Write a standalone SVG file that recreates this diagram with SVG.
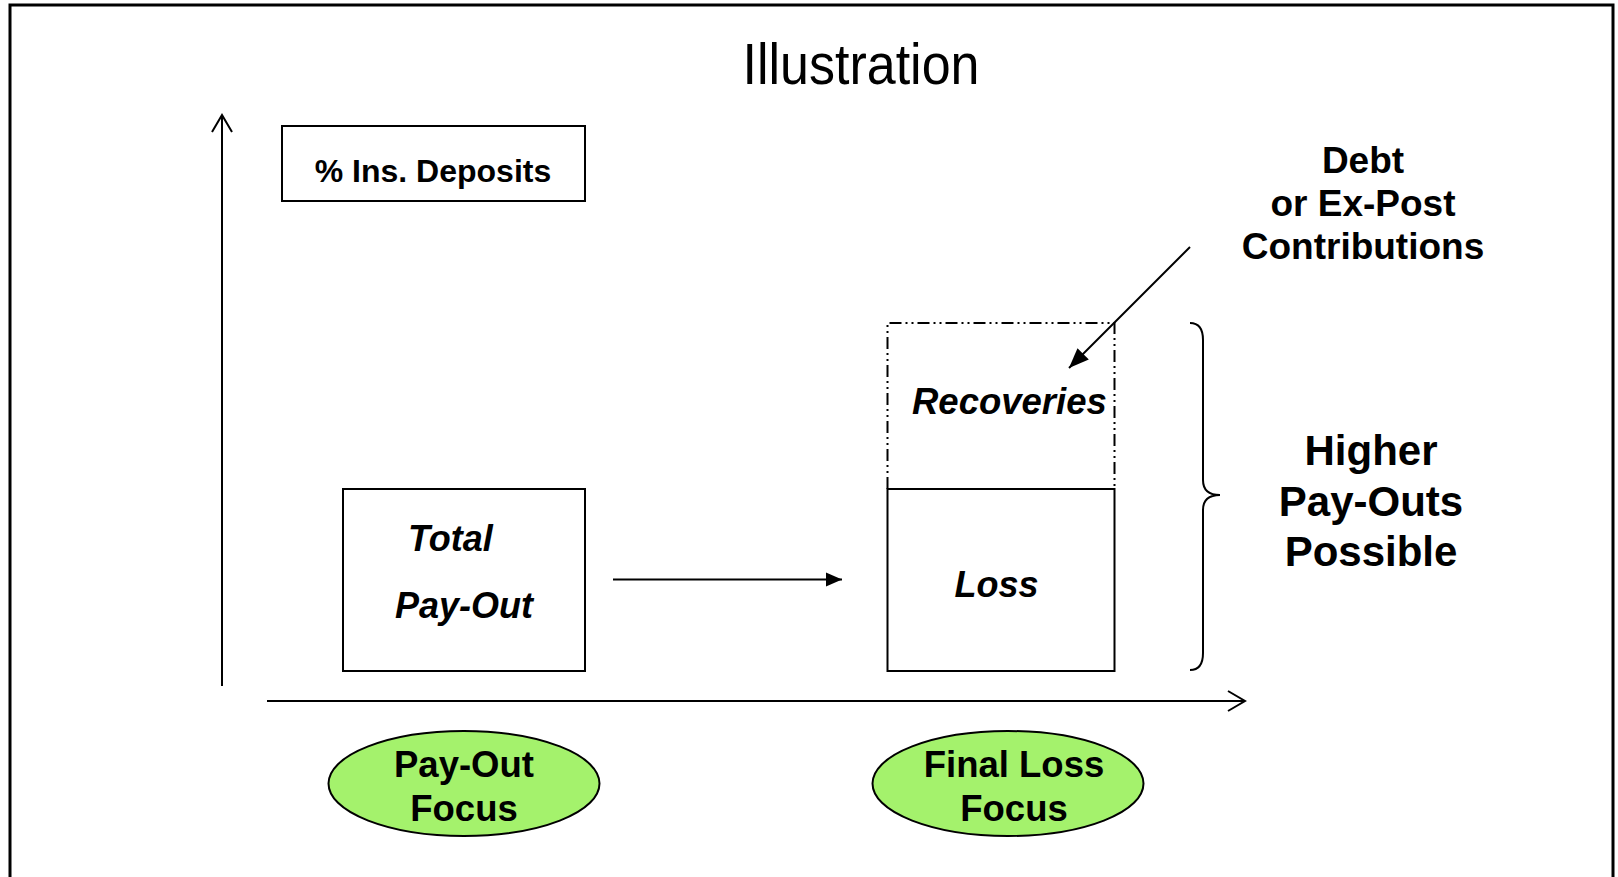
<svg xmlns="http://www.w3.org/2000/svg" width="1618" height="877" viewBox="0 0 1618 877">
<defs>
<marker id="openArrow" markerUnits="userSpaceOnUse" markerWidth="24" markerHeight="24" viewBox="-20 -12 24 24" refX="0" refY="0" orient="auto">
<path d="M-17,-10 L0,0 L-17,10" fill="none" stroke="#000" stroke-width="2"/>
</marker>
<marker id="solidArrow" markerUnits="userSpaceOnUse" markerWidth="24" markerHeight="20" viewBox="-22 -10 24 20" refX="0" refY="0" orient="auto">
<path d="M-16,-7 L0,0 L-16,7 Z" fill="#000"/>
</marker>
<marker id="solidArrow2" markerUnits="userSpaceOnUse" markerWidth="26" markerHeight="20" viewBox="-24 -10 26 20" refX="0" refY="0" orient="auto">
<path d="M-20,-8 L0,0 L-20,8 Z" fill="#000"/>
</marker>
</defs>
<style>
.b{font-family:"Liberation Sans",Arial,sans-serif;font-weight:bold;fill:#000}
.bi{font-family:"Liberation Sans",Arial,sans-serif;font-weight:bold;font-style:italic;fill:#000}
.box{fill:#fff;stroke:#000;stroke-width:2}
.ln{stroke:#000;stroke-width:2;fill:none}
.ell{fill:#a4f26c;stroke:#000;stroke-width:2}
</style>
<rect x="0" y="0" width="1618" height="877" fill="#fff"/>
<rect x="10" y="5" width="1603" height="900" fill="none" stroke="#000" stroke-width="3"/>

<text x="861" y="84" text-anchor="middle" font-family="Liberation Sans, Arial, sans-serif" font-size="57" textLength="237" lengthAdjust="spacingAndGlyphs">Illustration</text>

<g id="connectors">
<line class="ln" x1="222" y1="686" x2="222" y2="115" marker-end="url(#openArrow)"/>
<line class="ln" x1="267" y1="701" x2="1245" y2="701" marker-end="url(#openArrow)"/>
<line class="ln" x1="613" y1="579.5" x2="842" y2="579.5" marker-end="url(#solidArrow)"/>
<line class="ln" x1="1190" y1="247" x2="1069" y2="368" marker-end="url(#solidArrow2)"/>
<path class="ln" d="M1190,323 Q1203,323 1203,340 L1203,480 Q1203,495 1220,495 Q1203,495 1203,510 L1203,653 Q1203,670 1190,670"/>
</g>

<g id="ins-deposits">
<rect class="box" x="282" y="126" width="303" height="75"/>
<text class="b" x="433" y="182" text-anchor="middle" font-size="32">% Ins. Deposits</text>
</g>

<g id="total-payout">
<rect class="box" x="343" y="489" width="242" height="182"/>
<text class="bi" x="408" y="551" font-size="36">Total</text>
<text class="bi" x="395" y="618" font-size="36">Pay-Out</text>
</g>

<g id="recoveries">
<path d="M887.5,489 L887.5,323 L1114.5,323 L1114.5,489" fill="none" stroke="#000" stroke-width="2" stroke-dasharray="12,4,2,4,2,4"/>
<text class="bi" x="912" y="414" font-size="36.5">Recoveries</text>
</g>

<g id="loss">
<rect class="box" x="887.5" y="489" width="227" height="182"/>
<text class="bi" x="954.5" y="596.5" font-size="36">Loss</text>
</g>

<g id="debt-label">
<text class="b" x="1363" y="173" text-anchor="middle" font-size="37">Debt</text>
<text class="b" x="1363" y="216" text-anchor="middle" font-size="37">or Ex-Post</text>
<text class="b" x="1363" y="259" text-anchor="middle" font-size="37">Contributions</text>
</g>

<g id="higher-payouts">
<text class="b" x="1371" y="465" text-anchor="middle" font-size="42">Higher</text>
<text class="b" x="1371" y="515.5" text-anchor="middle" font-size="42">Pay-Outs</text>
<text class="b" x="1371" y="566" text-anchor="middle" font-size="42">Possible</text>
</g>

<g id="payout-focus">
<ellipse class="ell" cx="464" cy="783.5" rx="135.5" ry="52.5"/>
<text class="b" x="464" y="777" text-anchor="middle" font-size="36.5">Pay-Out</text>
<text class="b" x="464" y="821" text-anchor="middle" font-size="36.5">Focus</text>
</g>

<g id="final-loss-focus">
<ellipse class="ell" cx="1008" cy="783.5" rx="135.5" ry="52.5"/>
<text class="b" x="1014" y="777" text-anchor="middle" font-size="36.5">Final Loss</text>
<text class="b" x="1014" y="821" text-anchor="middle" font-size="36.5">Focus</text>
</g>
</svg>
